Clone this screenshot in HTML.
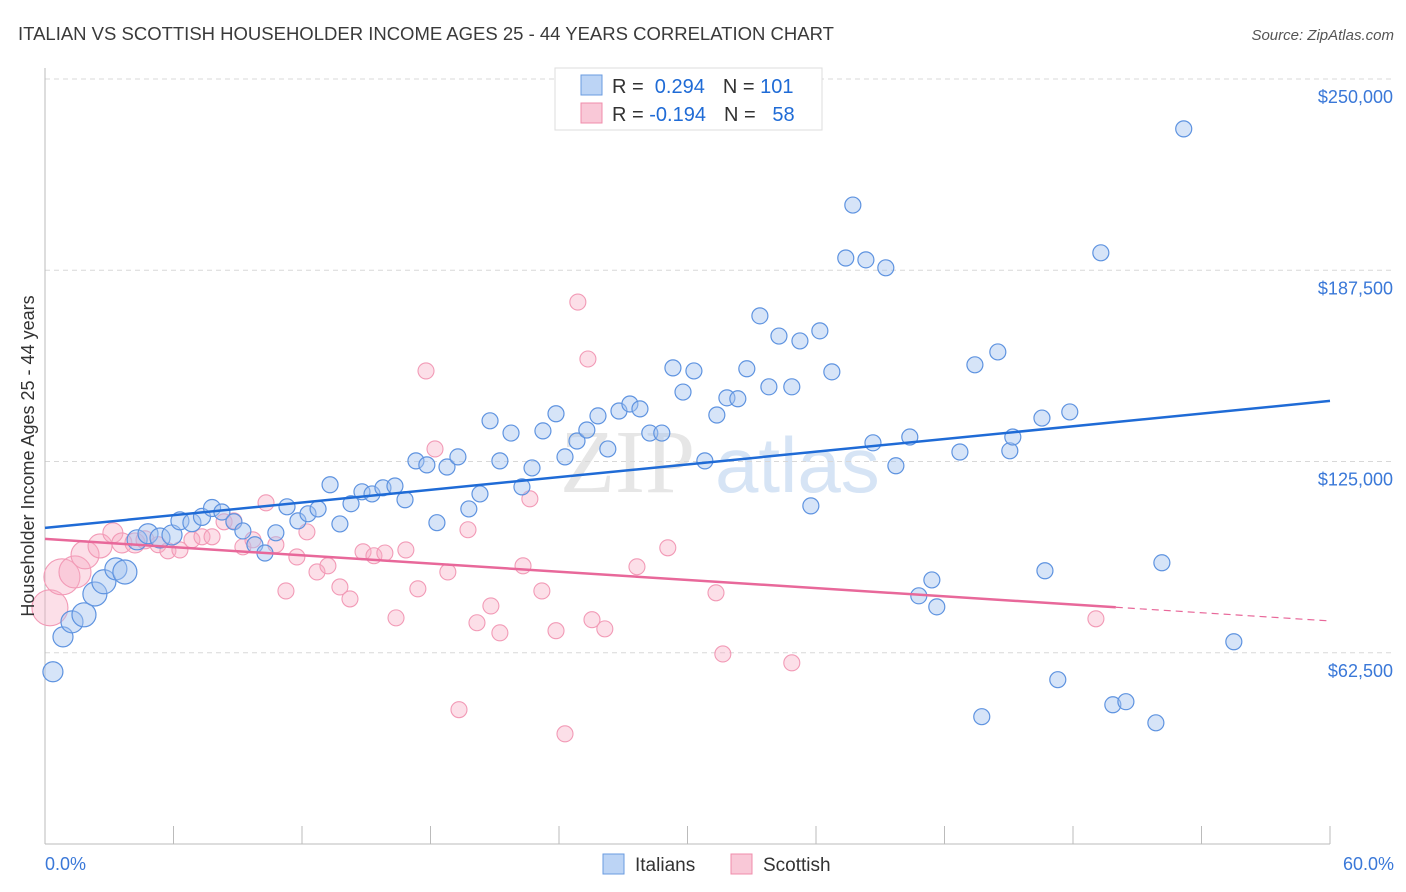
<!DOCTYPE html>
<html><head><meta charset="utf-8"><style>
body{margin:0;background:#fff;font-family:"Liberation Sans",sans-serif;}
svg{display:block}
</style></head><body>
<svg id="chart" width="1406" height="892">
<text x="18" y="40" font-size="18.5" fill="#3a3a3a">ITALIAN VS SCOTTISH HOUSEHOLDER INCOME AGES 25 - 44 YEARS CORRELATION CHART</text>
<text x="1394" y="40" font-size="15" fill="#555" font-style="italic" text-anchor="end">Source: ZipAtlas.com</text>
<text x="560" y="492" font-size="90" fill="#e6e6e6" font-family="Liberation Serif">ZIP</text>
<text x="715" y="492" font-size="78" fill="#d6e4f5">atlas</text>
<g id="grid"></g>
<g id="pts"></g>
<g id="lines"></g>
<text transform="translate(34,456) rotate(-90)" font-size="18" fill="#333" text-anchor="middle">Householder Income Ages 25 - 44 years</text>
<text x="45" y="870" font-size="18" fill="#3a78d8">0.0%</text>
<text x="1394" y="870" font-size="18" fill="#3a78d8" text-anchor="end">60.0%</text>
<g>
<rect x="555" y="68" width="267" height="62" fill="#fff" stroke="#ddd"/>
<rect x="581" y="75" width="21" height="20" fill="#bcd4f5" stroke="#6a9be0"/>
<rect x="581" y="103" width="21" height="20" fill="#f9c8d7" stroke="#f08cab"/>
<text x="612" y="93" font-size="20" fill="#333">R = <tspan fill="#1f6bd6">&#160;0.294</tspan><tspan dx="18">N = </tspan><tspan fill="#1f6bd6">101</tspan></text>
<text x="612" y="121" font-size="20" fill="#333">R = <tspan fill="#1f6bd6">-0.194</tspan><tspan dx="18">N = </tspan><tspan fill="#1f6bd6">&#160;&#160;58</tspan></text>
</g>
<g>
<rect x="603" y="854" width="21" height="20" fill="#bcd4f5" stroke="#6a9be0"/>
<text x="635" y="871" font-size="19" fill="#333">Italians</text>
<rect x="731" y="854" width="21" height="20" fill="#f9c8d7" stroke="#f08cab"/>
<text x="763" y="871" font-size="19" fill="#333">Scottish</text>
</g>
</svg>
<script>
const yTicks=[62500,125000,187500,250000];
const yTickLabels=["$62,500","$125,000","$187,500","$250,000"];
const xTicks=[0,6,12,18,24,30,36,42,48,54,60];
const blueX=[.37,.84,1.26,1.82,2.33,2.75,3.31,3.73,4.30,4.81,5.37,5.93,6.30,6.86,7.33,7.80,8.26,8.82,9.24,9.80,10.27,10.78,11.30,11.81,12.28,12.75,13.31,13.77,14.29,14.80,15.27,15.78,16.34,16.81,17.32,17.83,18.30,18.77,19.28,19.79,20.31,20.78,21.24,21.76,22.27,22.74,23.25,23.86,24.28,24.84,25.30,25.82,26.28,26.80,27.31,27.78,28.24,28.80,29.32,29.79,30.30,30.81,31.37,31.84,32.35,32.77,33.38,33.80,34.27,34.87,35.25,35.76,36.18,36.74,37.39,37.72,38.33,38.66,39.26,39.73,40.38,40.80,41.41,41.64,42.72,43.42,43.74,44.49,45.05,45.19,46.55,46.69,47.29,47.85,49.30,49.86,50.47,51.87,52.15,53.17,55.51];
const blueY=[56.3,67.7,72.6,74.9,81.7,85.7,89.9,88.9,99.4,101.4,100,101,105.6,105,106.9,109.8,108.5,105.3,102.3,97.8,95.1,101.7,110.2,105.6,107.9,109.5,117.4,104.6,111.2,115.1,114.4,116.4,117,112.5,125.2,123.9,105,123.2,126.5,109.5,114.4,138.3,125.2,134.3,116.7,122.9,135,140.6,126.5,131.7,135.3,139.9,129.1,141.5,143.8,142.2,134.3,134.3,155.6,147.7,154.6,125.2,140.2,145.8,145.5,155.3,172.6,149.4,166,149.4,164.4,110.5,167.7,154.3,191.5,208.8,190.9,131.1,188.3,123.6,133,81.1,86.3,77.5,128.1,156.6,41.6,160.8,128.5,133,139.2,89.3,53.7,141.2,193.2,45.5,46.5,39.6,91.9,233.7,66.1];
const blueSize=[10,10,11,12,12,12,11,12,10,10,10,10,9,9,8.5,8.5];
const pinkX=[.23,.79,1.40,1.87,2.57,3.17,3.59,4.20,4.67,5.28,5.74,6.30,6.86,7.33,7.80,8.36,8.82,9.24,9.71,10.32,10.78,11.25,11.76,12.23,12.70,13.21,13.77,14.24,14.85,15.36,15.87,16.39,16.85,17.41,17.79,18.21,18.81,19.33,19.75,20.17,20.82,21.24,22.32,22.64,23.20,23.86,24.28,24.88,25.35,25.54,26.14,27.64,29.08,31.33,31.65,34.87,49.07];
const pinkY=[77.2,87.3,88.9,94.5,97.4,101.7,98.4,98.4,99.4,97.8,95.8,96.1,99.4,100.4,100.4,105.3,105.6,97.1,99.4,111.5,97.8,82.7,93.8,102,88.9,90.9,84,80.1,95.5,94.2,95.1,73.9,96.1,83.4,154.6,129.1,88.9,43.9,102.7,72.3,77.8,69,90.9,112.8,82.7,69.7,36,177.1,158.5,73.3,70.3,90.6,96.8,82.1,62.1,59.2,73.6];
const pinkSize=[18,18,16,14,12,10,10,10,9];
const blueTrend=[103.3,144.8];
const pinkTrend=[99.7,72.9];
const pinkSolidEnd=50;
const NS="http://www.w3.org/2000/svg";
const X0=45,X1=1330,Y0=844,Y250=79;
function xs(p){return X0+(p/60)*(X1-X0);}
function ys(v){return Y0-(v/250000)*(Y0-Y250);}
function mk(tag,attrs,parent){const e=document.createElementNS(NS,tag);for(const k in attrs)e.setAttribute(k,attrs[k]);parent.appendChild(e);return e;}
const grid=document.getElementById('grid');
yTicks.forEach((t,i)=>{
 const l=mk('line',{x1:X0,x2:1395,y1:ys(t),y2:ys(t),stroke:'#d8d8d8','stroke-dasharray':'5,4'},grid);
 
 
 const tx=mk('text',{x:1393,y:ys(t)+24,'font-size':18,fill:'#3a78d8','text-anchor':'end'},grid);
 tx.textContent=yTickLabels[i];
 
 
});
const ax=mk('line',{x1:X0,x2:X0,y1:68,y2:Y0,stroke:'#bbb'},grid);


const bx=mk('line',{x1:X0,x2:X1,y1:Y0,y2:Y0,stroke:'#bbb'},grid);


xTicks.forEach(t=>{
 const l=mk('line',{x1:xs(t),x2:xs(t),y1:826,y2:Y0,stroke:'#bbb'},grid);
 
 
});
const pts=document.getElementById('pts');
pinkX.forEach((x,i)=>{
 const c=mk('circle',{cx:xs(x),cy:ys(pinkY[i]*1000),r:pinkSize[i]||8,fill:'rgba(246,170,194,0.38)',stroke:'#f29ab6','stroke-width':1.1},pts);
 
 
});
blueX.forEach((x,i)=>{
 const c=mk('circle',{cx:xs(x),cy:ys(blueY[i]*1000),r:blueSize[i]||8,fill:'rgba(164,196,240,0.45)',stroke:'#5e93e0','stroke-width':1.2},pts);
 
 
});
const lines=document.getElementById('lines');
const bl=mk('line',{x1:xs(0),x2:xs(60),y1:ys(blueTrend[0]*1000),y2:ys(blueTrend[1]*1000),stroke:'#1f6bd6','stroke-width':2.5},lines);


const pm=pinkTrend[0]+(pinkTrend[1]-pinkTrend[0])*pinkSolidEnd/60;
const pl=mk('line',{x1:xs(0),x2:xs(pinkSolidEnd),y1:ys(pinkTrend[0]*1000),y2:ys(pm*1000),stroke:'#e8689a','stroke-width':2.5},lines);


const pd=mk('line',{x1:xs(pinkSolidEnd),x2:xs(60),y1:ys(pm*1000),y2:ys(pinkTrend[1]*1000),stroke:'#e8689a','stroke-width':1.2,'stroke-dasharray':'7,5'},lines);


</script>
</body></html>
